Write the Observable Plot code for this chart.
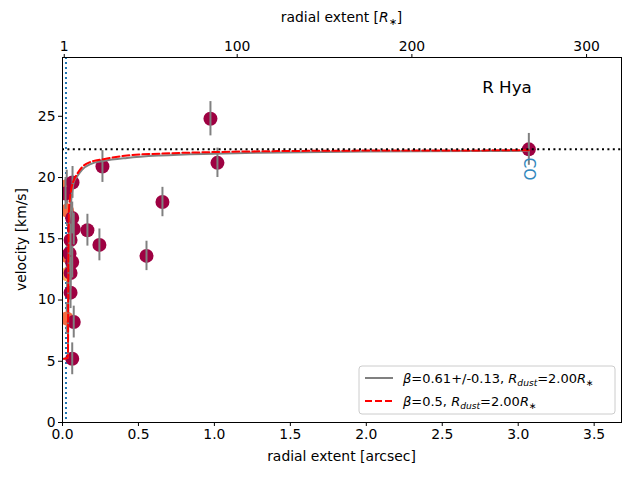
<!DOCTYPE html>
<html>
<head>
<meta charset="utf-8">
<script src="https://cdn.jsdelivr.net/npm/d3@7"></script>
<script src="https://cdn.jsdelivr.net/npm/@observablehq/plot@0.6"></script>
<style>
  html, body { margin: 0; padding: 0; background: white; }
  #chart { width: 640px; height: 480px; }
</style>
</head>
<body>
<div id="chart"></div>
<script>
// ---- data ----
const starName = "R Hya";
const coLabel = "CO";
const rStarArcsec = 0.0115;            // 1 stellar radius in arcsec (top axis conversion)
const dustLineX = 0.023;               // blue dotted vertical line (arcsec)
const vInfinity = 22.3;                // black dotted horizontal line (km/s)

// measured velocities (maroon points)
const pointX = [0.020, 0.066, 0.064, 0.074, 0.053, 0.046, 0.064, 0.053, 0.053, 0.074, 0.064, 0.164, 0.243, 0.263, 0.553, 0.658, 0.974, 1.020, 3.070];
const pointV = [18.7, 19.6, 16.7, 15.8, 14.9, 13.8, 13.1, 12.2, 10.6, 8.2, 5.2, 15.7, 14.5, 20.9, 13.6, 18.0, 24.8, 21.2, 22.3];
const pointErr = [1.3, 1.3, 1.3, 1.3, 1.3, 1.3, 1.3, 1.3, 1.3, 1.3, 1.3, 1.3, 1.3, 1.3, 1.2, 1.2, 1.4, 1.2, 1.3];

// partly hidden points of other transitions near the star
const hiddenX = [0.028, 0.030, 0.028, 0.030, 0.028];
const hiddenV = [19.3, 17.3, 13.6, 12.1, 8.5];
const hiddenColor = ["#f46d43", "#f46d43", "#f46d43", "#fdae61", "#f46d43"];

// beta-law fit curves
const fitX = [0.010, 0.036, 0.038, 0.040, 0.043, 0.048, 0.055, 0.064, 0.074, 0.097, 0.130, 0.184, 0.270, 0.425, 0.645, 1.000, 1.300, 2.000, 3.070];
const fitV = [5.2, 5.3, 9.5, 13.0, 15.0, 16.6, 17.8, 18.9, 19.6, 20.1, 20.65, 21.1, 21.35, 21.6, 21.8, 21.95, 22.03, 22.12, 22.18];
const halfX = [0.010, 0.036, 0.037, 0.038, 0.040, 0.042, 0.050, 0.060, 0.074, 0.097, 0.130, 0.184, 0.270, 0.425, 0.645, 1.000, 1.300, 2.000, 3.070];
const halfV = [5.2, 5.3, 9.0, 12.5, 15.2, 17.2, 18.4, 19.2, 19.77, 20.3, 20.86, 21.27, 21.5, 21.8, 21.95, 22.08, 22.14, 22.2, 22.22];

// ticks
const xTicks = [0, 0.5, 1, 1.5, 2, 2.5, 3, 3.5];
const yTicks = [0, 5, 10, 15, 20, 25];
const topTickLabels = [1, 100, 200, 300];

// ---- build tables ----
const points = pointX.map((x, i) => ({x, v: pointV[i], e: pointErr[i]}));
const hidden = hiddenX.map((x, i) => ({x, v: hiddenV[i], e: 1.3, c: hiddenColor[i]}));
const fitCurve = fitX.map((x, i) => ({x, v: fitV[i]}));
const halfCurve = halfX.map((x, i) => ({x, v: halfV[i]}));

const font = "DejaVu Sans";
const fs = 13.9;
const mL = 62, mR = 19, mT = 57, mB = 58, W = 640, H = 480;

const chart = Plot.plot({
  width: W,
  height: H,
  marginLeft: mL,
  marginRight: mR,
  marginTop: mT,
  marginBottom: mB,
  style: {fontFamily: font, fontSize: fs + "px", background: "white", color: "black"},
  x: {domain: [0, 3.68]},
  y: {domain: [0, 29.8]},
  marks: [
    Plot.ruleX([dustLineX], {stroke: "#1f77b4", strokeWidth: 2, strokeDasharray: "2,3"}),
    Plot.ruleX(hidden, {x: "x", y1: d => d.v - d.e, y2: d => d.v + d.e, stroke: "#808080", strokeWidth: 2}),
    Plot.dot(hidden, {x: "x", y: "v", r: 7, fill: "c", stroke: "none", clip: true}),
    Plot.dot(points, {x: "x", y: "v", r: 7, fill: "#9e0142", stroke: "none", clip: true}),
    Plot.ruleX(points, {x: "x", y1: d => d.v - d.e, y2: d => d.v + d.e, stroke: "#808080", strokeWidth: 2}),
    Plot.line(fitCurve, {x: "x", y: "v", stroke: "#808080", strokeWidth: 2, curve: "monotone-x"}),
    Plot.line(halfCurve, {x: "x", y: "v", stroke: "red", strokeWidth: 2, strokeDasharray: "7,3", curve: "monotone-x"}),
    Plot.ruleY([vInfinity], {stroke: "black", strokeWidth: 2, strokeDasharray: "2,3.4"}),
    Plot.text([coLabel], {x: pointX[pointX.length - 1], y: 20.7, text: d => d, rotate: 90, fill: "#3288bd", fontSize: 15.5, textAnchor: "middle", lineAnchor: "middle"}),
    Plot.axisX({anchor: "bottom", ticks: xTicks, tickFormat: d => d.toFixed(1), tickSize: 4, tickPadding: 3, label: null, fontSize: fs}),
    Plot.axisX({anchor: "top", ticks: topTickLabels.map(t => t * rStarArcsec), tickFormat: d => String(Math.round(d / rStarArcsec)), tickSize: 4, tickPadding: 3, label: null, fontSize: fs}),
    Plot.axisY({anchor: "left", ticks: yTicks, tickSize: 4, tickPadding: 3, label: null, fontSize: fs}),
    Plot.frame({stroke: "black", strokeWidth: 1})
  ]
});

document.getElementById("chart").appendChild(chart);

// ---- labels, title and legend ----
const svg = d3.select(chart);
const pLeft = mL, pRight = W - mR, pTop = mT, pBottom = H - mB;

function richText(g, x, y, parts, size, anchor) {
  const t = g.append("text").attr("x", x).attr("y", y)
    .attr("font-family", font).attr("font-size", size).attr("fill", "black")
    .attr("text-anchor", anchor || "start");
  let shifted = 0;
  for (const p of parts) {
    const s = t.append("tspan").text(p.t);
    if (p.i) s.attr("font-style", "italic");
    const want = p.sub ? 3 : 0;
    if (want !== shifted) { s.attr("dy", want - shifted); shifted = want; }
    if (p.sub) s.attr("font-size", size * 0.7);
  }
  return t;
}

const g = svg.append("g");
g.append("text").attr("x", (pLeft + pRight) / 2).attr("y", 461)
  .attr("text-anchor", "middle").attr("font-family", font).attr("font-size", fs)
  .attr("fill", "black").text("radial extent [arcsec]");
g.append("text").attr("transform", `translate(26,${(pTop + pBottom) / 2}) rotate(-90)`)
  .attr("text-anchor", "middle").attr("font-family", font).attr("font-size", fs)
  .attr("fill", "black").text("velocity [km/s]");
richText(g, (pLeft + pRight) / 2, 22, [{t: "radial extent ["}, {t: "R", i: true}, {t: "∗", sub: true}, {t: "]"}], fs, "middle");

g.append("text").attr("x", 507).attr("y", 93).attr("text-anchor", "middle")
  .attr("font-family", font).attr("font-size", 16.7).attr("fill", "black").text(starName);

// legend
const lg = svg.append("g");
lg.append("rect").attr("x", 359).attr("y", 366).attr("width", 256).attr("height", 48)
  .attr("rx", 3).attr("fill", "white").attr("fill-opacity", 0.85).attr("stroke", "#cccccc");
lg.append("line").attr("x1", 365).attr("x2", 393).attr("y1", 378).attr("y2", 378)
  .attr("stroke", "#808080").attr("stroke-width", 2);
lg.append("line").attr("x1", 365).attr("x2", 393).attr("y1", 401).attr("y2", 401)
  .attr("stroke", "red").attr("stroke-width", 2).attr("stroke-dasharray", "7,3");
richText(lg, 403, 383, [{t: "β", i: true}, {t: "=0.61+/-0.13, "}, {t: "R", i: true}, {t: "dust", i: true, sub: true}, {t: "=2.00"}, {t: "R", i: true}, {t: "∗", sub: true}], 13);
richText(lg, 403, 406, [{t: "β", i: true}, {t: "=0.5, "}, {t: "R", i: true}, {t: "dust", i: true, sub: true}, {t: "=2.00"}, {t: "R", i: true}, {t: "∗", sub: true}], 13);
</script>
</body>
</html>
